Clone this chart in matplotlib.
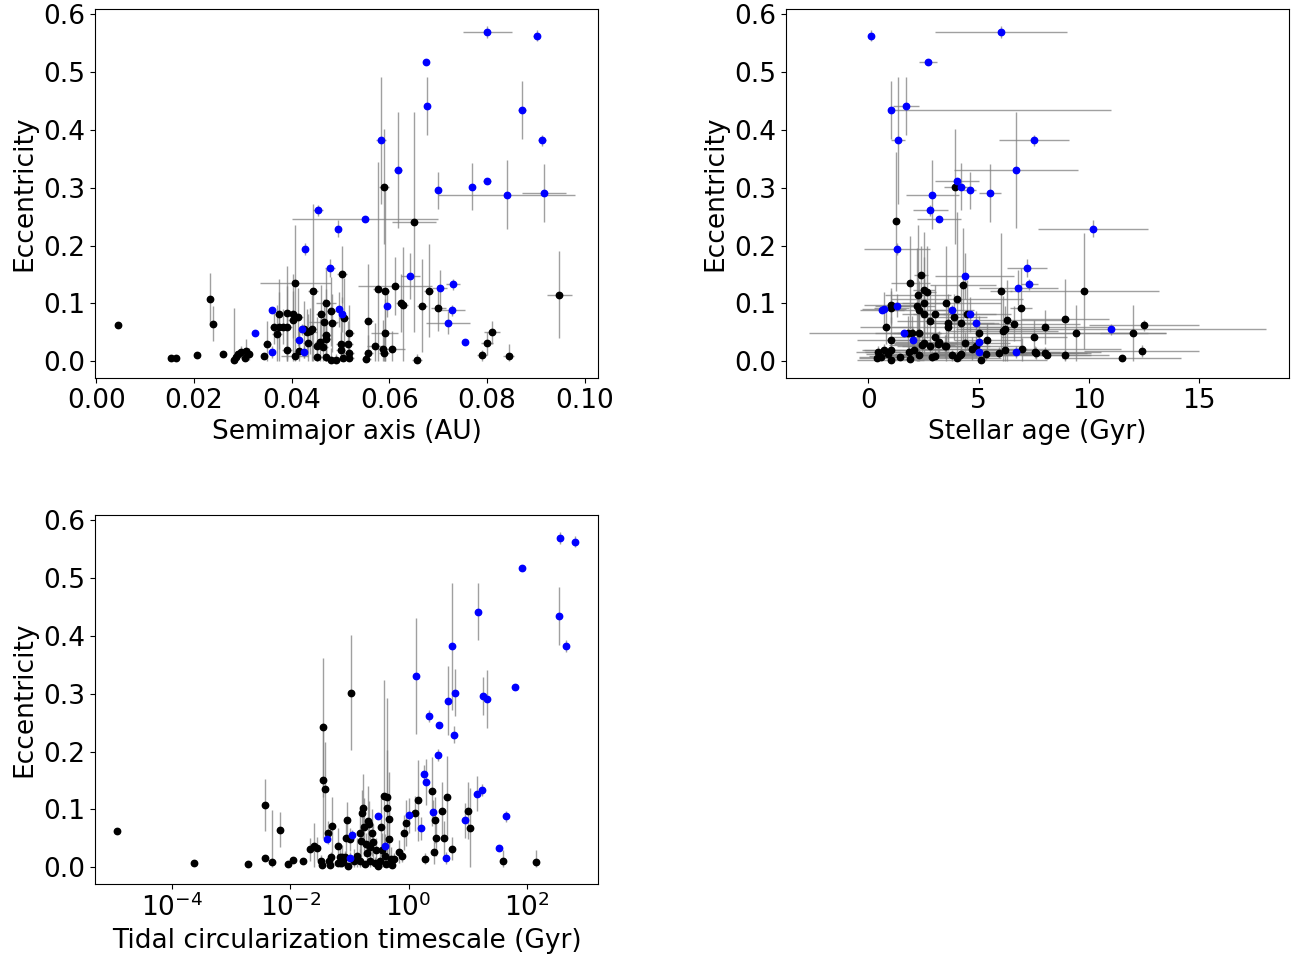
import numpy as np
import matplotlib
matplotlib.use("Agg")
import matplotlib.pyplot as plt
from matplotlib.ticker import MultipleLocator

plt.rcParams['font.size'] = 19

# ---- planetas excentricos (azul): mismo orden en los tres paneles ----
e_b = [0.569, 0.563, 0.518, 0.442, 0.435, 0.382, 0.382, 0.331, 0.311, 0.302, 0.296,
       0.291, 0.288, 0.261, 0.246, 0.229, 0.194, 0.161, 0.147, 0.133, 0.127, 0.096,
       0.089, 0.090, 0.088, 0.081, 0.067, 0.055, 0.048, 0.037, 0.034, 0.016, 0.016]
ee_b = [0.010, 0.010, 0.004, 0.050, 0.050, 0.110, 0.010, 0.100, 0.005, 0.040, 0.032,
        0.050, 0.060, 0.010, 0.005, 0.015, 0.010, 0.015, 0.040, 0.010, 0.030, 0.020,
        0.005, 0.030, 0.010, 0.030, 0.020, 0.010, 0.005, 0.020, 0.003, 0.010, 0.010]
a_b = [0.0800, 0.0902, 0.0674, 0.0677, 0.0871, 0.0583, 0.0913, 0.0618, 0.0800, 0.0770, 0.0700,
       0.0916, 0.0840, 0.0454, 0.0550, 0.0494, 0.0427, 0.0478, 0.0643, 0.0730, 0.0703, 0.0595,
       0.0360, 0.0497, 0.0729, 0.0502, 0.0720, 0.0421, 0.0324, 0.0414, 0.0755, 0.0360, 0.0426]
ae_b = [0.005, 0.0007, 0.0004, 0.0004, 0.0008, 0.001, 0.0008, 0.0008, 0.0008, 0.0003, 0.0003,
        0.0045, 0.014, 0.001, 0.015, 0.0005, 0.0005, 0.001, 0.002, 0.0015, 0.0015, 0.0003,
        0.0005, 0.0005, 0.0025, 0.0005, 0.0045, 0.0005, 0.0005, 0.0005, 0.0005, 0.0005, 0.0005]
age_b = [6.0, 0.1, 2.7, 1.7, 1.0, 1.34, 7.5, 6.7, 4.0, 4.2, 4.6,
         5.5, 2.9, 2.8, 3.2, 10.2, 1.3, 7.2, 4.4, 7.3, 6.8, 1.3,
         0.6, 0.7, 3.8, 4.6, 4.9, 11.0, 1.6, 2.0, 5.0, 5.0, 6.7]
age_lo_b = [3.0, 0.1, 0.4, 0.6, 0.0, 0.3, 1.6, 2.8, 1.0, 0.4, 0.3,
            0.5, 1.2, 0.8, 1.0, 2.5, 1.5, 0.9, 1.4, 0.4, 1.8, 1.0,
            1.0, 1.0, 1.0, 1.2, 1.0, 7.04, 0.5, 0.8, 0.5, 2.0, 2.0]
age_hi_b = [3.0, 0.1, 0.4, 0.6, 10.0, 0.3, 1.6, 2.8, 1.0, 0.4, 0.3,
            0.5, 1.2, 0.8, 1.0, 2.5, 1.5, 0.9, 2.2, 0.4, 1.8, 1.0,
            1.0, 1.0, 1.0, 1.2, 1.0, 7.04, 0.5, 0.8, 0.5, 2.0, 2.0]
logtau_b = [2.56, 2.81, 1.92, 1.17, 2.54, 0.74, 2.66, 0.12, 1.79, 0.79, 1.25,
            1.32, 0.67, 0.34, 0.52, 0.76, 0.49, 0.26, 0.30, 1.24, 1.15, 0.42,
            -0.52, 0.01, 1.65, 0.95, 0.21, -0.95, -1.38, -0.40, 1.52, -0.99, 0.63]

# ---- panel 1 (semieje mayor), planetas circulares (negro) ----
a_k = [0.0044, 0.0153, 0.0162, 0.0205, 0.0233, 0.0238, 0.0259, 0.0282, 0.0285, 0.0289,
       0.0297, 0.0304, 0.0306, 0.0312, 0.0343, 0.0350, 0.0369, 0.0373, 0.0390, 0.0363,
       0.0373, 0.0381, 0.0390, 0.0390, 0.0403, 0.0412, 0.0403, 0.0407, 0.0444, 0.0426,
       0.0437, 0.0441, 0.0432, 0.0433, 0.0414, 0.0406, 0.0451, 0.0458, 0.0464, 0.0470,
       0.0470, 0.0452, 0.0470, 0.0480, 0.0490, 0.0505, 0.0470, 0.0460, 0.0480, 0.0465,
       0.0482, 0.0503, 0.0500, 0.0500, 0.0507, 0.0518, 0.0515, 0.0517, 0.0517, 0.0557,
       0.0570, 0.0557, 0.0553, 0.0589, 0.0577, 0.0590, 0.0590, 0.0586, 0.0589, 0.0605,
       0.0612, 0.0624, 0.0628, 0.0650, 0.0667, 0.0680, 0.0656, 0.0700, 0.0810, 0.0800,
       0.0790, 0.0844, 0.0948]
ae_k = [0.0002, 0.0003, 0.0003, 0.0004, 0.0005, 0.0005, 0.0005, 0.0005, 0.0005, 0.0005,
        0.0005, 0.0005, 0.0005, 0.0005, 0.0005, 0.0008, 0.001, 0.0008, 0.001, 0.0008,
        0.0008, 0.0008, 0.001, 0.001, 0.001, 0.001, 0.001, 0.0073, 0.001, 0.001,
        0.001, 0.001, 0.002, 0.001, 0.001, 0.0028, 0.001, 0.001, 0.001, 0.001,
        0.001, 0.001, 0.001, 0.001, 0.001, 0.001, 0.002, 0.001, 0.001, 0.003,
        0.001, 0.001, 0.001, 0.001, 0.001, 0.001, 0.001, 0.001, 0.001, 0.001,
        0.0016, 0.001, 0.001, 0.001, 0.001, 0.001, 0.0027, 0.001, 0.001, 0.0027,
        0.0076, 0.001, 0.001, 0.0045, 0.001, 0.001, 0.001, 0.0015, 0.0017, 0.0012,
        0.001, 0.0012, 0.0025]
e1_k = [0.062, 0.006, 0.006, 0.010, 0.108, 0.065, 0.013, 0.002, 0.008, 0.012,
        0.016, 0.005, 0.018, 0.013, 0.009, 0.030, 0.047, 0.082, 0.084, 0.060,
        0.060, 0.060, 0.060, 0.020, 0.081, 0.076, 0.071, 0.136, 0.122, 0.055,
        0.052, 0.055, 0.050, 0.031, 0.018, 0.009, 0.027, 0.033, 0.024, 0.045,
        0.039, 0.008, 0.008, 0.003, 0.003, 0.006, 0.1015, 0.081, 0.0865, 0.068,
        0.066, 0.150, 0.030, 0.020, 0.074, 0.048, 0.030, 0.015, 0.005, 0.069,
        0.026, 0.015, 0.004, 0.302, 0.1245, 0.121, 0.048, 0.022, 0.015, 0.022,
        0.130, 0.101, 0.097, 0.241, 0.096, 0.122, 0.002, 0.092, 0.050, 0.031,
        0.010, 0.009, 0.115]
ee1_k = [0.0, 0.0, 0.0, 0.0, 0.045, 0.03, 0.0, 0.09, 0.01, 0.0,
         0.01, 0.0, 0.02, 0.01, 0.0, 0.04, 0.05, 0.06, 0.08, 0.03,
         0.06, 0.03, 0.07, 0.04, 0.04, 0.05, 0.08, 0.10, 0.15, 0.05,
         0.04, 0.06, 0.04, 0.05, 0.04, 0.03, 0.05, 0.04, 0.06, 0.08,
         0.06, 0.02, 0.03, 0.02, 0.01, 0.02, 0.06, 0.05, 0.06, 0.04,
         0.05, 0.05, 0.05, 0.03, 0.07, 0.05, 0.04, 0.02, 0.01, 0.10,
         0.04, 0.03, 0.01, 0.10, 0.22, 0.18, 0.06, 0.05, 0.04, 0.03,
         0.05, 0.05, 0.10, 0.19, 0.08, 0.08, 0.01, 0.04, 0.02, 0.02,
         0.01, 0.02, 0.075]

# ---- panel 2 (edad estelar), negro ----
age_k = [1.24, 3.94, 2.38, 1.90, 2.50, 2.65, 2.25, 4.30, 4.00, 6.00,
         6.90, 1.00, 1.03, 2.20, 2.50, 2.30, 2.50, 3.00, 2.80, 3.50,
         3.60, 3.60, 4.20, 3.90, 4.47, 0.80, 1.00, 1.80, 1.98, 2.30,
         3.00, 5.00, 5.40, 6.20, 6.10, 6.30, 6.60, 7.50, 9.80, 8.90,
         8.00, 9.40, 12.0, 12.5, 7.60, 8.00, 8.10, 8.90, 11.5, 12.4,
         3.20, 2.80, 2.50, 3.50, 4.40, 4.70, 0.42, 0.57, 0.39, 0.69,
         1.00, 1.00, 1.42, 1.82, 1.90, 2.05, 2.28, 2.43, 2.88, 3.03,
         3.15, 3.48, 3.79, 4.01, 4.16, 4.21, 4.90, 5.10, 5.34, 5.90,
         6.20, 6.95, 7.56, 0.90]
agee_k = [0.15, 0.5, 0.3, 0.9, 0.5, 0.4, 1.5, 1.5, 3.0, 0.5,
          0.5, 1.2, 0.8, 0.8, 1.0, 1.2, 1.0, 1.0, 1.5, 2.5,
          1.0, 3.0, 1.5, 1.5, 2.0, 1.2, 1.5, 1.5, 1.0, 1.0,
          2.0, 7.7, 1.5, 2.0, 2.5, 2.5, 3.0, 1.5, 3.4, 2.0,
          3.0, 4.1, 1.5, 2.5, 2.5, 1.5, 2.0, 2.0, 2.7, 2.6,
          2.0, 1.5, 1.5, 2.0, 2.0, 2.5, 1.0, 1.0, 0.8, 1.0,
          1.2, 1.5, 1.0, 2.0, 1.0, 1.5, 2.0, 1.5, 2.5, 3.0,
          2.0, 1.5, 3.0, 2.0, 2.5, 3.0, 2.0, 3.0, 2.5, 4.0,
          2.0, 4.5, 3.0, 1.0]
e2_k = [0.242, 0.302, 0.149, 0.136, 0.124, 0.120, 0.115, 0.131, 0.108, 0.122,
        0.092, 0.097, 0.092, 0.096, 0.100, 0.088, 0.082, 0.081, 0.069, 0.100,
        0.067, 0.059, 0.066, 0.077, 0.081, 0.059, 0.036, 0.049, 0.049, 0.049,
        0.042, 0.048, 0.036, 0.056, 0.052, 0.071, 0.065, 0.042, 0.121, 0.073,
        0.059, 0.048, 0.048, 0.062, 0.014, 0.014, 0.011, 0.010, 0.006, 0.018,
        0.033, 0.027, 0.032, 0.026, 0.031, 0.022, 0.016, 0.007, 0.005, 0.019,
        0.020, 0.002, 0.007, 0.016, 0.004, 0.019, 0.010, 0.028, 0.008, 0.009,
        0.030, 0.026, 0.010, 0.005, 0.010, 0.013, 0.027, 0.003, 0.012, 0.015,
        0.019, 0.021, 0.016, 0.012]
ee2_k = [0.12, 0.10, 0.05, 0.08, 0.10, 0.08, 0.12, 0.10, 0.15, 0.10,
         0.07, 0.03, 0.03, 0.10, 0.08, 0.05, 0.06, 0.05, 0.05, 0.10,
         0.05, 0.04, 0.06, 0.04, 0.06, 0.03, 0.04, 0.03, 0.03, 0.04,
         0.03, 0.03, 0.03, 0.04, 0.06, 0.07, 0.03, 0.03, 0.10, 0.07,
         0.03, 0.05, 0.05, 0.01, 0.01, 0.01, 0.0, 0.01, 0.0, 0.01,
         0.02, 0.02, 0.02, 0.02, 0.02, 0.02, 0.01, 0.0, 0.0, 0.01,
         0.01, 0.0, 0.0, 0.01, 0.0, 0.01, 0.01, 0.02, 0.01, 0.0,
         0.02, 0.02, 0.01, 0.0, 0.01, 0.01, 0.02, 0.0, 0.01, 0.01,
         0.02, 0.02, 0.01, 0.0]

# ---- panel 3 (escala de circularizacion), negro ----
logtau_k = [-4.92, -3.62, -2.71, -2.42, -2.43, -2.31, -2.17, -2.03, -1.96, -1.79,
            -1.66, -1.60, -1.55, -1.45, -1.44, -1.41, -1.36, -1.30, -1.20, -1.48,
            -1.47, -1.35, -1.32, -1.31, -1.20, -1.16, -1.14, -1.04, -1.06, -0.99,
            -1.13, -1.07, -1.11, -1.02, -0.93, -0.88, -0.82, -0.74, -0.65, -0.57,
            -0.51, -0.77, -0.78, -0.68, -0.67, -0.76, -0.82, -0.62, -0.61, -0.80,
            -0.72, -0.66, -0.55, -0.70, -0.41, -0.37, -0.36, -0.33, -0.47, -0.33,
            -0.45, -0.40, -0.30, -0.48, -0.38, -0.28, -0.17, -0.11, -0.24, -0.05,
            -0.08, 0.11, 0.16, 0.39, 0.65, 0.57, 0.45, 0.46, 0.60, 0.43,
            0.74, 0.27, 1.01, 1.04, 1.59, 2.15, -0.98]
e3_k = [0.062, 0.007, 0.006, 0.108, 0.016, 0.009, 0.065, 0.006, 0.013, 0.011,
        0.031, 0.037, 0.033, 0.242, 0.150, 0.136, 0.060, 0.072, 0.037, 0.011,
        0.003, 0.011, 0.003, 0.017, 0.008, 0.017, 0.008, 0.082, 0.051, 0.048,
        0.018, 0.018, 0.009, 0.002, 0.011, 0.020, 0.011, 0.005, 0.011, 0.007,
        0.002, 0.102, 0.093, 0.080, 0.074, 0.069, 0.060, 0.060, 0.044, 0.045,
        0.040, 0.035, 0.030, 0.025, 0.123, 0.122, 0.102, 0.084, 0.069, 0.048,
        0.030, 0.020, 0.015, 0.010, 0.005, 0.003, 0.027, 0.019, 0.015, 0.077,
        0.060, 0.093, 0.116, 0.131, 0.122, 0.097, 0.081, 0.050, 0.050, 0.026,
        0.032, 0.015, 0.098, 0.067, 0.010, 0.009, 0.302]
ee3_k = [0.0, 0.0, 0.0, 0.045, 0.005, 0.09, 0.03, 0.0, 0.0, 0.0,
         0.02, 0.04, 0.02, 0.12, 0.10, 0.08, 0.02, 0.05, 0.03, 0.01,
         0.0, 0.01, 0.0, 0.01, 0.0, 0.02, 0.0, 0.03, 0.03, 0.02,
         0.02, 0.01, 0.0, 0.0, 0.02, 0.03, 0.02, 0.0, 0.02, 0.01,
         0.0, 0.06, 0.04, 0.06, 0.04, 0.05, 0.04, 0.04, 0.03, 0.03,
         0.02, 0.03, 0.02, 0.02, 0.20, 0.17, 0.10, 0.08, 0.05, 0.06,
         0.03, 0.03, 0.02, 0.02, 0.01, 0.01, 0.02, 0.01, 0.01, 0.04,
         0.03, 0.03, 0.07, 0.06, 0.07, 0.05, 0.04, 0.03, 0.03, 0.02,
         0.02, 0.01, 0.05, 0.07, 0.02, 0.02, 0.10]


def yerr_asim(e, err):
    # la excentricidad no puede ser negativa
    e = np.array(e)
    err = np.array(err)
    return [np.minimum(err, e), err]


ecol = (0.5, 0.5, 0.5, 0.75)
kw = dict(fmt='o', ms=4.6, ecolor=ecol, elinewidth=1, capsize=0, linestyle='none')

fig, axs = plt.subplots(2, 2, figsize=(12.96, 9.57), dpi=100)
plt.subplots_adjust(left=0.0733, right=0.9946, top=0.9906, bottom=0.0763,
                    wspace=0.374, hspace=0.371)

ax = axs[0, 0]
ax.errorbar(a_k, e1_k, xerr=ae_k, yerr=yerr_asim(e1_k, ee1_k), color='black', **kw)
ax.errorbar(a_b, e_b, xerr=ae_b, yerr=yerr_asim(e_b, ee_b), color='blue', **kw)
ax.set_xlabel("Semimajor axis (AU)")
ax.set_xlim(-0.0003, 0.1027)

ax = axs[0, 1]
ax.errorbar(age_k, e2_k, xerr=agee_k, yerr=yerr_asim(e2_k, ee2_k), color='black', **kw)
ax.errorbar(age_b, e_b, xerr=[age_lo_b, age_hi_b], yerr=yerr_asim(e_b, ee_b), color='blue', **kw)
ax.set_xlabel("Stellar age (Gyr)")
ax.set_xlim(-3.74, 19.08)

ax = axs[1, 0]
ax.errorbar(10**np.array(logtau_k), e3_k, yerr=yerr_asim(e3_k, ee3_k), color='black', **kw)
ax.errorbar(10**np.array(logtau_b), e_b, yerr=yerr_asim(e_b, ee_b), color='blue', **kw)
ax.set_xscale('log')
ax.set_xlabel("Tidal circularization timescale (Gyr)")
ax.set_xlim(10**-5.3, 10**3.2)

for ax in [axs[0, 0], axs[0, 1], axs[1, 0]]:
    ax.set_ylabel("Eccentricity")
    ax.set_ylim(-0.029, 0.609)
    ax.yaxis.set_major_locator(MultipleLocator(0.1))

axs[1, 1].remove()

plt.savefig("out.png", dpi=100)
